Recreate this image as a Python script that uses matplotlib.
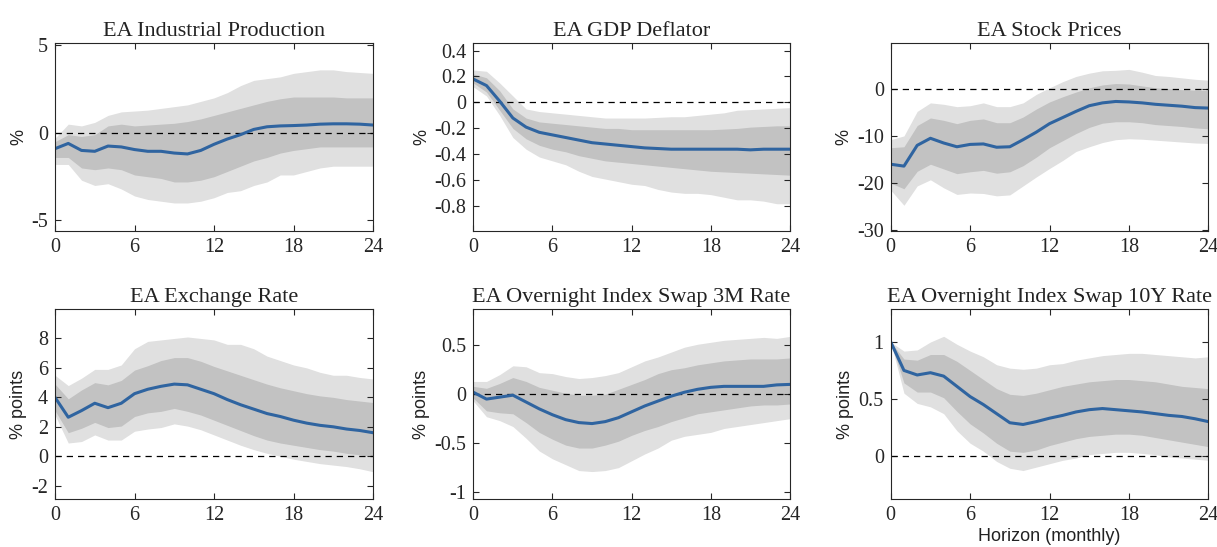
import numpy as np
import matplotlib.pyplot as plt

# horizon (months)
h = np.arange(25)

titles = ['EA Industrial Production', 'EA GDP Deflator', 'EA Stock Prices',
          'EA Exchange Rate', 'EA Overnight Index Swap 3M Rate',
          'EA Overnight Index Swap 10Y Rate']
ylabels = ['%', '%', '%', '% points', '% points', '% points']

# --- EA Industrial Production
ip_med = [-0.9, -0.6, -1.0, -1.05, -0.75, -0.8, -0.95, -1.05, -1.05, -1.15, -1.2, -1.0, -0.65,
          -0.35, -0.1, 0.2, 0.35, 0.4, 0.42, 0.45, 0.5, 0.52, 0.52, 0.5, 0.45]
ip_hi68 = [-0.5, -0.1, -0.2, -0.1, 0.4, 0.5, 0.4, 0.45, 0.5, 0.55, 0.65, 0.8, 1.0,
           1.2, 1.4, 1.6, 1.8, 1.95, 2.05, 2.05, 2.05, 2.05, 2.0, 2.0, 2.0]
ip_lo68 = [-1.4, -1.4, -2.0, -2.1, -2.0, -2.1, -2.4, -2.5, -2.6, -2.8, -2.8, -2.7, -2.5,
           -2.2, -1.9, -1.6, -1.4, -1.15, -1.0, -0.9, -0.8, -0.8, -0.8, -0.8, -0.8]
ip_hi90 = [-0.3, 0.5, 0.4, 0.6, 1.0, 1.2, 1.25, 1.3, 1.4, 1.5, 1.6, 1.8, 2.0,
           2.3, 2.7, 3.0, 3.1, 3.2, 3.4, 3.5, 3.6, 3.6, 3.5, 3.45, 3.4]
ip_lo90 = [-1.8, -1.8, -2.7, -3.0, -2.9, -3.2, -3.6, -3.8, -3.9, -4.0, -4.0, -3.9, -3.7,
           -3.4, -3.3, -3.0, -2.8, -2.4, -2.4, -2.2, -2.0, -1.9, -1.9, -1.9, -1.9]

# --- EA GDP Deflator
gd_med = [0.18, 0.13, 0.01, -0.12, -0.19, -0.23, -0.25, -0.27, -0.29, -0.31, -0.32, -0.33, -0.34,
          -0.35, -0.355, -0.36, -0.36, -0.36, -0.36, -0.36, -0.36, -0.365, -0.36, -0.36, -0.36]
gd_hi68 = [0.22, 0.19, 0.09, -0.05, -0.12, -0.15, -0.16, -0.17, -0.18, -0.19, -0.2, -0.2, -0.21,
           -0.21, -0.21, -0.21, -0.21, -0.21, -0.21, -0.205, -0.2, -0.19, -0.185, -0.18, -0.18]
gd_lo68 = [0.15, 0.08, -0.06, -0.2, -0.28, -0.33, -0.36, -0.38, -0.41, -0.43, -0.45, -0.46, -0.47,
           -0.48, -0.49, -0.5, -0.51, -0.52, -0.53, -0.535, -0.54, -0.545, -0.55, -0.555, -0.56]
gd_hi90 = [0.25, 0.24, 0.15, 0.05, -0.05, -0.07, -0.08, -0.09, -0.1, -0.11, -0.12, -0.12, -0.12,
           -0.12, -0.115, -0.11, -0.11, -0.1, -0.09, -0.08, -0.06, -0.055, -0.05, -0.045, -0.04]
gd_lo90 = [0.12, 0.05, -0.1, -0.27, -0.36, -0.42, -0.45, -0.48, -0.53, -0.57, -0.59, -0.61, -0.63,
           -0.64, -0.67, -0.69, -0.7, -0.7, -0.71, -0.73, -0.75, -0.75, -0.76, -0.78, -0.78]

# --- EA Stock Prices
sp_med = [-16.0, -16.4, -12.0, -10.5, -11.5, -12.3, -11.8, -11.7, -12.4, -12.3, -10.8, -9.2, -7.4,
          -6.1, -4.8, -3.6, -3.0, -2.7, -2.8, -3.0, -3.3, -3.5, -3.7, -4.0, -4.1]
sp_hi68 = [-12.5, -12.3, -7.8, -6.2, -6.7, -7.4, -6.7, -6.4, -7.2, -7.2, -6.0, -4.3, -2.8,
           -1.7, -0.7, 0.2, 0.8, 1.1, 1.0, 0.6, 0.2, 0.0, -0.2, -0.3, -0.4]
sp_lo68 = [-20.0, -21.2, -17.5, -16.0, -17.0, -18.0, -17.6, -17.3, -17.9, -17.6, -16.3, -14.5, -12.5,
           -11.0, -9.5, -8.2, -7.3, -7.0, -7.0, -7.2, -7.6, -7.8, -8.0, -8.3, -8.5]
sp_hi90 = [-10.8, -10.0, -4.8, -3.0, -3.3, -3.8, -3.6, -3.0, -3.8, -3.8, -3.0, -1.2, 0.2,
           1.5, 2.6, 3.3, 3.8, 3.9, 4.1, 3.5, 2.8, 2.6, 2.3, 2.0, 1.8]
sp_lo90 = [-21.5, -24.7, -20.6, -19.3, -21.0, -22.4, -22.1, -22.2, -22.7, -22.5, -20.6, -18.7, -16.9,
           -15.2, -13.3, -12.3, -11.4, -10.8, -10.6, -10.7, -10.9, -11.1, -11.3, -11.5, -11.6]

# --- EA Exchange Rate
fx_med = [4.0, 2.65, 3.1, 3.6, 3.3, 3.6, 4.25, 4.55, 4.75, 4.9, 4.85, 4.55, 4.25,
          3.85, 3.5, 3.2, 2.9, 2.7, 2.45, 2.25, 2.1, 2.0, 1.85, 1.75, 1.6]
fx_hi68 = [4.9, 3.9, 4.5, 5.0, 4.85, 5.15, 5.85, 6.15, 6.5, 6.7, 6.7, 6.45, 6.1,
           5.8, 5.5, 5.2, 4.9, 4.65, 4.45, 4.25, 4.1, 4.0, 3.85, 3.75, 3.65]
fx_lo68 = [3.1, 1.6, 1.9, 2.3, 1.95, 2.05, 2.7, 2.95, 3.05, 3.25, 3.05, 2.8, 2.45,
           2.1, 1.75, 1.4, 1.1, 0.9, 0.75, 0.6, 0.45, 0.35, 0.2, 0.1, 0.0]
fx_hi90 = [5.5, 4.8, 5.3, 5.9, 5.9, 6.2, 7.3, 7.8, 7.9, 8.0, 8.1, 8.0, 7.9,
           7.6, 7.6, 7.3, 6.8, 6.5, 6.2, 6.0, 5.7, 5.5, 5.5, 5.35, 5.25]
fx_lo90 = [2.8, 0.9, 1.0, 1.45, 1.1, 1.1, 1.7, 1.85, 1.95, 2.2, 2.05, 1.8, 1.45,
           1.1, 0.75, 0.45, 0.2, 0.0, -0.2, -0.35, -0.5, -0.6, -0.7, -0.85, -1.05]

# --- EA OIS 3M
s3_med = [0.02, -0.05, -0.03, -0.01, -0.08, -0.15, -0.21, -0.26, -0.29, -0.3, -0.28, -0.24, -0.18,
          -0.12, -0.07, -0.02, 0.02, 0.05, 0.07, 0.08, 0.08, 0.08, 0.08, 0.095, 0.1]
s3_hi68 = [0.08, 0.06, 0.11, 0.17, 0.13, 0.07, 0.04, 0.01, -0.01, -0.01, 0.0, 0.05, 0.1,
           0.15, 0.21, 0.25, 0.27, 0.3, 0.32, 0.34, 0.35, 0.36, 0.36, 0.36, 0.37]
s3_lo68 = [-0.04, -0.17, -0.19, -0.2, -0.29, -0.39, -0.46, -0.52, -0.55, -0.55, -0.52, -0.48, -0.42,
           -0.37, -0.33, -0.28, -0.24, -0.2, -0.18, -0.16, -0.14, -0.12, -0.11, -0.11, -0.1]
s3_hi90 = [0.13, 0.13, 0.2, 0.29, 0.28, 0.22, 0.21, 0.18, 0.16, 0.17, 0.19, 0.22, 0.28,
           0.34, 0.38, 0.43, 0.48, 0.51, 0.53, 0.55, 0.56, 0.57, 0.58, 0.57, 0.59]
s3_lo90 = [-0.07, -0.23, -0.27, -0.33, -0.45, -0.58, -0.66, -0.72, -0.78, -0.79, -0.78, -0.75, -0.68,
           -0.61, -0.55, -0.47, -0.43, -0.41, -0.39, -0.35, -0.33, -0.31, -0.29, -0.27, -0.25]

# --- EA OIS 10Y
s10_med = [1.0, 0.75, 0.71, 0.73, 0.7, 0.61, 0.52, 0.45, 0.37, 0.29, 0.275, 0.3, 0.33,
           0.355, 0.385, 0.405, 0.415, 0.405, 0.395, 0.385, 0.37, 0.355, 0.345, 0.325, 0.3]
s10_hi68 = [1.0, 0.85, 0.84, 0.89, 0.89, 0.83, 0.75, 0.67, 0.59, 0.54, 0.53, 0.55, 0.58,
            0.61, 0.63, 0.65, 0.66, 0.67, 0.67, 0.66, 0.65, 0.63, 0.61, 0.6, 0.59]
s10_lo68 = [1.0, 0.64, 0.56, 0.56, 0.51, 0.39, 0.28, 0.2, 0.11, 0.04, 0.03, 0.05, 0.09,
            0.12, 0.15, 0.17, 0.18, 0.19, 0.19, 0.18, 0.16, 0.14, 0.12, 0.1, 0.08]
s10_hi90 = [1.0, 0.92, 0.93, 1.0, 1.05, 0.98, 0.92, 0.87, 0.8, 0.77, 0.76, 0.77, 0.8,
            0.81, 0.84, 0.86, 0.88, 0.89, 0.9, 0.9, 0.89, 0.88, 0.87, 0.86, 0.87]
s10_lo90 = [1.0, 0.55, 0.46, 0.43, 0.37, 0.22, 0.11, 0.04, -0.05, -0.11, -0.13, -0.1, -0.07,
            -0.04, -0.02, 0.01, 0.02, 0.03, 0.03, 0.02, 0.01, -0.01, -0.02, -0.03, -0.04]

series = [
    (ip_med, ip_lo68, ip_hi68, ip_lo90, ip_hi90),
    (gd_med, gd_lo68, gd_hi68, gd_lo90, gd_hi90),
    (sp_med, sp_lo68, sp_hi68, sp_lo90, sp_hi90),
    (fx_med, fx_lo68, fx_hi68, fx_lo90, fx_hi90),
    (s3_med, s3_lo68, s3_hi68, s3_lo90, s3_hi90),
    (s10_med, s10_lo68, s10_hi68, s10_lo90, s10_hi90),
]

yticks = [[-5, 0, 5],
          [-0.8, -0.6, -0.4, -0.2, 0, 0.2, 0.4],
          [-30, -20, -10, 0],
          [-2, 0, 2, 4, 6, 8],
          [-1, -0.5, 0, 0.5],
          [0, 0.5, 1]]
ylims = [(-5.6, 5.15), (-0.99, 0.46), (-30.15, 9.75),
         (-2.9, 10.0), (-1.07, 0.87), (-0.38, 1.29)]

xticks = [0, 6, 12, 18, 24]

# axes positions (fig fractions)
lefts = [0.0452, 0.3889, 0.7319]
widths = [0.2613, 0.2602, 0.261]
bottoms = [0.5777, 0.0878]
heights = [0.3442, 0.3473]

light = '#e0e0e0'
dark = '#c2c2c2'
blue = '#2f64a0'
edge = '#262626'

fig = plt.figure(figsize=(12.17, 5.47), dpi=100)

for i in range(6):
    r, c = divmod(i, 3)
    ax = fig.add_axes([lefts[c], bottoms[r], widths[c], heights[r]])
    med, lo68, hi68, lo90, hi90 = series[i]
    ax.fill_between(h, lo90, hi90, color=light, lw=0)
    ax.fill_between(h, lo68, hi68, color=dark, lw=0)
    ax.axhline(0, color='black', lw=0.9, ls=(0, (5, 4)))
    ax.plot(h, med, color=blue, lw=2.2)

    ax.set_xlim(0, 24)
    ax.set_ylim(*ylims[i])
    ax.set_xticks(xticks)
    ax.set_xticklabels([str(t) for t in xticks], family='Liberation Serif', fontsize=14.5)
    ax.set_yticks(yticks[i])
    ax.set_yticklabels([('%g' % t) for t in yticks[i]], family='Liberation Serif', fontsize=14.5)
    ax.tick_params(direction='in', top=True, right=True, length=4, width=0.8,
                   colors=edge, pad=5)
    for sp in ax.spines.values():
        sp.set_color(edge)
        sp.set_linewidth(0.8)
    ax.set_title(titles[i], family='Liberation Serif', fontsize=16, color='#222222', pad=5)
    ax.set_ylabel(ylabels[i], family='Liberation Sans', fontsize=13, color='#222222', labelpad=3)
    if i == 5:
        ax.set_xlabel('Horizon (monthly)', family='Liberation Sans', fontsize=13,
                      color='#222222', labelpad=2)

fig.savefig('out.png', dpi=100)
